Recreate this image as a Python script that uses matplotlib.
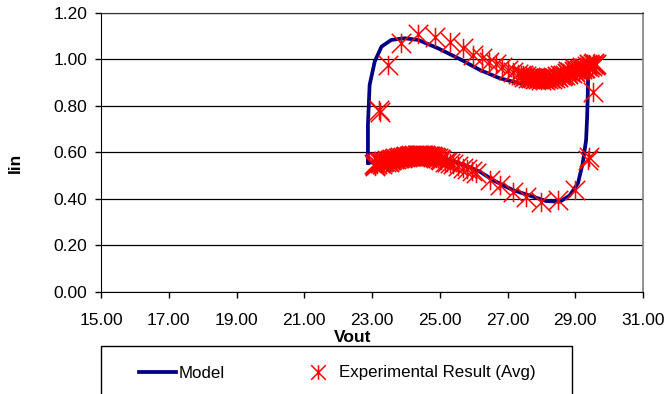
import matplotlib
matplotlib.use("Agg")
import matplotlib.pyplot as plt
from matplotlib.path import Path
from matplotlib.patches import Rectangle
from matplotlib.ticker import FormatStrFormatter, MultipleLocator

plt.rcParams['font.family'] = ['Liberation Sans', 'DejaVu Sans']

# model loop (Vout, Iin)
model_x = [22.90, 23.10, 23.50, 24.00, 24.50, 25.00, 25.44, 25.73, 26.20, 26.57,
           27.16, 27.75, 28.14, 28.54, 28.83, 29.08, 29.22, 29.32, 29.35, 29.37,
           29.38, 29.45, 29.20, 28.80, 28.40, 28.00, 27.60, 27.36, 26.77, 26.18,
           25.64, 24.95, 24.36, 23.96, 23.57, 23.28, 23.08, 22.93, 22.88, 22.88]
model_y = [0.555, 0.556, 0.568, 0.582, 0.587, 0.575, 0.559, 0.545, 0.515, 0.480,
           0.437, 0.409, 0.390, 0.387, 0.413, 0.466, 0.552, 0.652, 0.750, 0.850,
           0.930, 0.965, 0.950, 0.930, 0.912, 0.900, 0.895, 0.896, 0.918, 0.954,
           0.997, 1.047, 1.083, 1.090, 1.083, 1.054, 0.990, 0.889, 0.717, 0.555]

# experimental result (avg)
exp_x = [23.20, 23.25, 23.47, 23.87, 24.36, 24.85, 25.29, 25.68, 25.98, 26.25,
         26.45, 26.67, 26.85, 27.00, 27.15, 27.30,
         27.40, 27.50, 27.60, 27.70, 27.80, 27.90, 28.00, 28.10, 28.20, 28.30,
         28.40, 28.50, 28.60, 28.70, 28.80, 28.90, 29.00, 29.10, 29.20, 29.30,
         29.40, 29.50, 29.58, 28.80, 29.00, 29.20, 29.40, 29.55,
         27.45, 27.55, 27.65, 27.75, 27.85, 27.95, 28.05, 28.15, 28.25, 28.35,
         28.45, 28.55, 28.65, 28.75, 28.85, 28.95, 29.05, 29.15, 29.25, 29.35,
         29.45, 29.52, 29.60,
         29.52, 29.37, 29.40, 28.98, 28.49, 28.00, 27.55, 27.16, 26.77, 26.47,
         26.08, 25.69, 25.30, 25.15, 25.00, 24.90, 24.80, 24.72, 24.64, 24.56,
         24.48, 24.40, 24.32, 24.24, 24.16, 24.08, 24.00, 23.92, 23.84, 23.76,
         23.68, 23.60, 23.52, 23.44, 23.36, 23.28, 23.20, 23.12, 23.05, 23.10,
         23.30, 23.50,
         23.08, 23.16, 23.24, 23.32, 23.40, 23.48, 23.56, 23.64, 23.72, 23.80,
         23.88, 23.96, 24.04, 24.12, 24.20, 24.28, 24.36, 24.44, 24.52, 24.60,
         24.68, 24.76, 24.85, 24.95, 25.05, 25.20, 25.40, 25.55, 25.80, 25.95]
exp_y = [0.780, 0.775, 0.975, 1.068, 1.107, 1.097, 1.075, 1.047, 1.020, 1.005,
         0.990, 0.978, 0.965, 0.955, 0.945, 0.935,
         0.930, 0.925, 0.921, 0.918, 0.915, 0.913, 0.912, 0.912, 0.913, 0.915,
         0.918, 0.922, 0.927, 0.932, 0.937, 0.942, 0.947, 0.952, 0.957, 0.962,
         0.967, 0.972, 0.976, 0.950, 0.960, 0.968, 0.978, 0.985,
         0.932, 0.928, 0.924, 0.921, 0.919, 0.918, 0.918, 0.918, 0.920, 0.923,
         0.926, 0.930, 0.934, 0.939, 0.944, 0.949, 0.954, 0.959, 0.964, 0.969,
         0.974, 0.980, 0.978,
         0.860, 0.566, 0.578, 0.437, 0.394, 0.387, 0.409, 0.430, 0.459, 0.480,
         0.509, 0.531, 0.552, 0.560, 0.570, 0.575, 0.580, 0.583, 0.585, 0.587,
         0.588, 0.588, 0.588, 0.587, 0.586, 0.585, 0.583, 0.581, 0.579, 0.577,
         0.574, 0.571, 0.568, 0.565, 0.562, 0.559, 0.556, 0.553, 0.550, 0.540,
         0.548, 0.556,
         0.544, 0.548, 0.552, 0.556, 0.560, 0.563, 0.566, 0.569, 0.572, 0.575,
         0.577, 0.579, 0.581, 0.583, 0.584, 0.585, 0.586, 0.586, 0.586, 0.585,
         0.584, 0.582, 0.578, 0.573, 0.567, 0.560, 0.550, 0.542, 0.528, 0.520]

x_ticks = [15, 17, 19, 21, 23, 25, 27, 29, 31]

# excel style asterisk: X plus vertical bar
star = Path([(-1, -1), (1, 1), (-1, 1), (1, -1), (0, -1), (0, 1)],
            [Path.MOVETO, Path.LINETO, Path.MOVETO, Path.LINETO, Path.MOVETO, Path.LINETO])

fig = plt.figure(figsize=(6.66, 3.94), dpi=100)
ax = fig.add_axes([101/666, 1-291.7/394, 542/666, 279/394])

ax.plot(model_x, model_y, color='#000080', lw=2.7, label='Model', zorder=2,
        solid_joinstyle='round')
ax.plot(exp_x, exp_y, ls='none', marker=star, ms=14, mew=1.1, mec='#FF0000',
        mfc='none', label='Experimental Result (Avg)', zorder=3)

ax.set_xlim(15, 31)
ax.set_ylim(0, 1.2)
ax.set_xticks(x_ticks)
ax.yaxis.set_major_locator(MultipleLocator(0.2))
ax.xaxis.set_major_formatter(FormatStrFormatter('%.2f'))
ax.yaxis.set_major_formatter(FormatStrFormatter('%.2f'))
ax.tick_params(labelsize=12.5, length=4, width=1, direction='out')
ax.tick_params(axis='x', pad=11)
ax.tick_params(axis='y', pad=6)
ax.grid(axis='y', color='black', lw=0.9)
ax.set_axisbelow(True)
for s in ['left', 'bottom']:
    ax.spines[s].set_color('black')
ax.spines['top'].set_color('#303030')
ax.spines['right'].set_color('#808080')
ax.spines['right'].set_linewidth(1.2)

fig.text(353/666, 1-337/394, 'Vout', ha='center', va='center', fontsize=12.5, fontweight='bold')
fig.text(15.5/666, 1-163/394, 'Iin', ha='center', va='center', fontsize=12.5,
         fontweight='bold', rotation=90)

# legend box runs off the bottom of the figure
fig.patches.append(Rectangle((101/666, -0.05), 471/666, 1-346/394+0.05,
                             transform=fig.transFigure, fill=False, ec='black', lw=1))
h, l = ax.get_legend_handles_labels()
fig.legend(h, l, loc='center left', bbox_to_anchor=(139/666, 1-373/394), ncol=2,
           frameon=False, fontsize=12.2, borderpad=0, borderaxespad=0,
           handlelength=2.2, handletextpad=0.15, columnspacing=4.4, markerscale=0.75)

fig.savefig('out.png', dpi=100)
